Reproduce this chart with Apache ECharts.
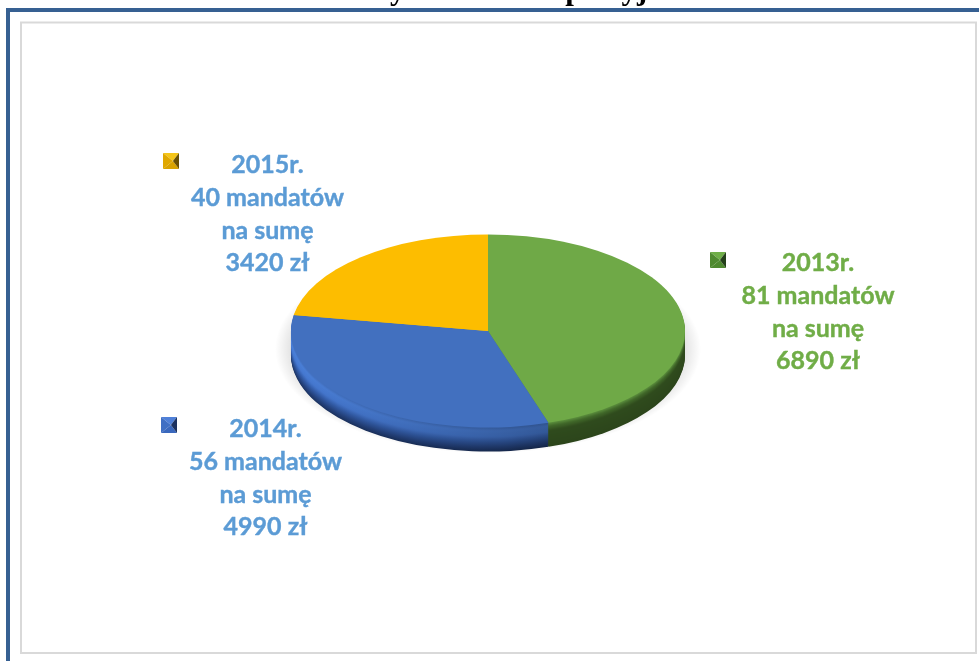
<!DOCTYPE html>
<html><head><meta charset="utf-8">
<style>html,body{margin:0;padding:0;background:#fff}#c{width:979px;height:661px}</style>
<script src="https://cdn.jsdelivr.net/npm/echarts@6/dist/echarts.min.js"></script>
</head><body><div id="c"></div>
<script>
const categories = ['2013r.', '2014r.', '2015r.'];
const tickets = [81, 56, 40];
const amounts = [6890, 4990, 3420];
const titleText = 'Mandaty nałożone represyjnie w latach 2013 – 2015';

const sliceColors = ['#6fa947', '#4270bf', '#fdbd00'];
const textColors = ['#70ad47', '#5b9bd5', '#5b9bd5'];
const labelCenters = [[818, 263], [265.5, 429], [267.5, 165]];
const markerCorners = [[710, 252], [161, 417], [163, 153]];
const markerShades = [
  {top:'#6fae48', left:'#4f8a30', right:'#24401a', bottom:'#4f8a30'},
  {top:'#4f80d8', left:'#3f6fc4', right:'#1c3260', bottom:'#3a68bd'},
  {top:'#f5c518', left:'#e0a800', right:'#6a5000', bottom:'#d9a300'}
];
const PIE = {cx: 488, cy: 331, r: 197, squash: 0.49, depth: 24};
const total = amounts.reduce((a, b) => a + b, 0);

function mix(a, b, t) {
  const p = c => [1, 3, 5].map(i => parseInt(c.substr(i, 2), 16));
  const A = p(a), B = p(b);
  return 'rgb(' + A.map((v, i) => Math.round(v + (B[i] - v) * t)).join(',') + ')';
}
function ramp(stops, t) {
  for (let i = 1; i < stops.length; i++) {
    if (t <= stops[i][0]) {
      const f = (t - stops[i - 1][0]) / (stops[i][0] - stops[i - 1][0]);
      return mix(stops[i - 1][1], stops[i][1], f);
    }
  }
  return stops[stops.length - 1][1];
}
const sideRamps = [
  [[0, '#5f9440'], [0.15, '#426a2a'], [0.35, '#2f4b1d'], [1, '#2c451b']],
  [[0, '#4270bf'], [0.15, '#4a7fd8'], [0.4, '#4679d2'], [0.6, '#3560ae'], [0.85, '#25437f'], [1, '#1d3564']],
  [[0, '#ffc000'], [1, '#8f6c00']]
];

function sliceAngles(i) {
  let before = 0;
  for (let k = 0; k < i; k++) before += amounts[k];
  const s = -Math.PI / 2 + before / total * Math.PI * 2;
  return [s, s + amounts[i] / total * Math.PI * 2];
}
function fadeRight(c, i) {
  const nums = c.match(/\d+/g).map(Number);
  const k = i === 1 ? 0.72 : 1;
  return 'rgb(' + nums.map(v => Math.round(v * k)).join(',') + ')';
}
function renderItem(params, api) {
  const i = api.value(0);
  const a = sliceAngles(i);
  const kids = [];
  const sector = (d, fill, z2) => ({
    type: 'group', x: PIE.cx, y: PIE.cy + d, scaleY: PIE.squash,
    children: [{
      type: 'sector', z2: z2,
      shape: {cx: 0, cy: 0, r0: 0, r: PIE.r, startAngle: a[0], endAngle: a[1], clockwise: true},
      style: {fill: fill}
    }]
  });
  if (i === 0) {
    kids.push({
      type: 'group', x: PIE.cx, y: PIE.cy + PIE.depth - 6, scaleY: PIE.squash,
      children: [{
        type: 'circle', z2: 0, shape: {cx: 0, cy: 0, r: PIE.r + 16},
        style: {fill: new echarts.graphic.RadialGradient(0.5, 0.5, 0.5, [
          {offset: 0, color: 'rgba(0,0,0,0.14)'},
          {offset: 0.9, color: 'rgba(0,0,0,0.14)'},
          {offset: 1, color: 'rgba(0,0,0,0)'}
        ])}
      }]
    });
  }
  for (let d = PIE.depth; d >= 1; d--) {
    const c = ramp(sideRamps[i], d / PIE.depth);
    const fill = new echarts.graphic.LinearGradient(0, 0, 1, 0, [
      {offset: 0, color: c}, {offset: 1, color: fadeRight(c, i)}
    ]);
    kids.push(sector(d, fill, 10 + PIE.depth - d));
  }
  kids.push(sector(0, sliceColors[i], 100 + i));

  const lc = labelCenters[i];
  const lines = [categories[i], tickets[i] + ' mandatów', 'na sumę', amounts[i] + ' zł'];
  lines.forEach((t, n) => kids.push({
    type: 'text', z2: 200, x: lc[0], y: lc[1] + n * 32.8,
    style: {text: t, fill: textColors[i], stroke: textColors[i], lineWidth: 0.4, font: 'bold 25px Lato', textAlign: 'center', textVerticalAlign: 'middle'}
  }));

  const m = markerCorners[i], s = markerShades[i], w = 16;
  const ax = m[0] + w * 0.62, ay = m[1] + w * 0.5;
  const poly = (pts, fill) => ({type: 'polygon', z2: 201, shape: {points: pts}, style: {fill: fill}});
  const TL = [m[0], m[1]], TR = [m[0] + w, m[1]], BR = [m[0] + w, m[1] + w], BL = [m[0], m[1] + w];
  kids.push(poly([TL, TR, [ax, ay]], s.top));
  kids.push(poly([TL, BL, [ax, ay]], s.left));
  kids.push(poly([BL, BR, [ax, ay]], s.bottom));
  kids.push(poly([TR, BR, [ax, ay]], s.right));
  return {type: 'group', children: kids};
}

const chart = echarts.init(document.getElementById('c'), null, {renderer: 'canvas'});
chart.setOption({
  animation: false,
  backgroundColor: '#ffffff',
  graphic: [
    {type: 'text', x: 285, y: -25, z: 0, style: {text: titleText, font: 'bold 31px "Liberation Serif"', fill: '#000000'}, silent: true},
    {type: 'rect', shape: {x: 6, y: 8, width: 973, height: 4}, style: {fill: '#366092'}, z: 1, silent: true},
    {type: 'rect', shape: {x: 6, y: 8, width: 4, height: 653}, style: {fill: '#366092'}, z: 1, silent: true},
    {type: 'rect', shape: {x: 21, y: 22.5, width: 955, height: 630.5}, style: {fill: 'none', stroke: '#d9d9d9', lineWidth: 2}, z: 1, silent: true}
  ],
  series: [{
    type: 'custom',
    coordinateSystem: 'none',
    silent: true,
    clip: false,
    data: categories.map((c, i) => [i, amounts[i], tickets[i]]),
    renderItem: renderItem
  }]
});
</script></body></html>
